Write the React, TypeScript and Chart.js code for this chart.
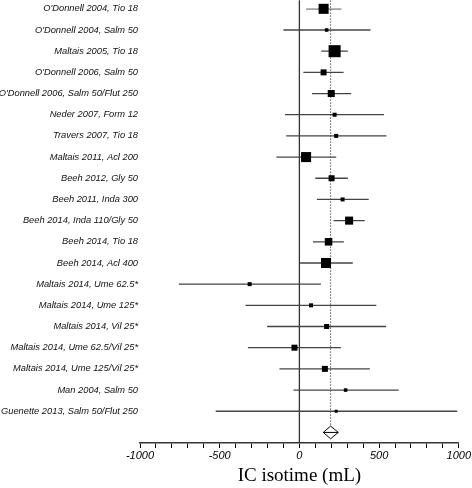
import React, { useEffect, useRef } from 'react';
import { Chart, registerables } from 'chart.js';

Chart.register(...registerables);

const studies = [
  "O'Donnell 2004, Tio 18",
  "O'Donnell 2004, Salm 50",
  'Maltais 2005, Tio 18',
  "O'Donnell 2006, Salm 50",
  "O'Donnell 2006, Salm 50/Flut 250",
  'Neder 2007, Form 12',
  'Travers 2007, Tio 18',
  'Maltais 2011, Acl 200',
  'Beeh 2012, Gly 50',
  'Beeh 2011, Inda 300',
  'Beeh 2014, Inda 110/Gly 50',
  'Beeh 2014, Tio 18',
  'Beeh 2014, Acl 400',
  'Maltais 2014, Ume 62.5*',
  'Maltais 2014, Ume 125*',
  'Maltais 2014, Vil 25*',
  'Maltais 2014, Ume 62.5/Vil 25*',
  'Maltais 2014, Ume 125/Vil 25*',
  'Man 2004, Salm 50',
  'Guenette 2013, Salm 50/Flut 250',
];
const estimates = [152, 171, 221, 152, 200, 221, 231, 42, 202, 271, 312, 183, 167, -312, 73, 171, -31, 160, 290, 231];
const ciLower = [42, -100, 137, 25, 79, -90, -83, -144, 100, 110, 215, 85, 0, -756, -338, -202, -323, -125, -37, -525];
const ciUpper = [264, 446, 304, 277, 325, 531, 546, 231, 304, 435, 410, 279, 335, 135, 483, 544, 260, 442, 623, 990];
// relative study weights (%)
const weights = [11.2, 1.4, 16.1, 4.0, 5.5, 1.8, 1.8, 11.2, 4.0, 1.8, 7.2, 6.3, 11.2, 1.8, 1.8, 2.8, 4.0, 4.0, 1.4, 1.0];
const pooledEstimate = 196;
const pooledLower = 150;
const pooledUpper = 244;
const xTickLabels = [-1000, -500, 0, 500, 1000];

export default function App() {
  const ref = useRef<HTMLCanvasElement | null>(null);

  useEffect(() => {
    if (!ref.current) return;
    const pooledRow = studies.length;
    const lineColor = '#444';

    const datasets: any[] = [];
    datasets.push({
      data: estimates.map((x, i) => ({ x, y: i })),
      showLine: false,
      pointStyle: 'rect',
      pointRadius: weights.map((w) => (3 * Math.sqrt(w)) / Math.SQRT2),
      pointBackgroundColor: '#000',
      pointBorderColor: '#000',
      pointBorderWidth: 0,
      clip: false,
    });
    studies.forEach((_, i) => {
      datasets.push({
        data: [
          { x: ciLower[i], y: i },
          { x: ciUpper[i], y: i },
        ],
        showLine: true,
        borderColor: lineColor,
        borderWidth: 1.3,
        pointRadius: 0,
      });
    });
    // pooled diamond
    datasets.push({
      data: [
        { x: pooledLower, y: pooledRow },
        { x: pooledEstimate, y: pooledRow - 0.3 },
        { x: pooledUpper, y: pooledRow },
        { x: pooledEstimate, y: pooledRow + 0.3 },
        { x: pooledLower, y: pooledRow },
      ],
      showLine: true,
      borderColor: '#000',
      borderWidth: 1,
      pointRadius: 0,
    });
    datasets.push({
      data: [
        { x: pooledLower, y: pooledRow },
        { x: pooledUpper, y: pooledRow },
      ],
      showLine: true,
      borderColor: '#000',
      borderWidth: 1,
      pointRadius: 0,
    });
    // dotted pooled line
    datasets.push({
      data: [
        { x: pooledEstimate, y: -0.4 },
        { x: pooledEstimate, y: pooledRow - 0.3 },
      ],
      showLine: true,
      borderColor: '#555',
      borderWidth: 1,
      borderDash: [1.5, 1.5],
      pointRadius: 0,
      clip: false,
    });
    // zero line
    datasets.push({
      data: [
        { x: 0, y: -0.4 },
        { x: 0, y: 20.5 },
      ],
      showLine: true,
      borderColor: '#333',
      borderWidth: 1.3,
      pointRadius: 0,
      clip: false,
    });

    const chart = new Chart(ref.current, {
      type: 'scatter',
      data: { datasets },
      options: {
        animation: false,
        responsive: false,
        layout: { padding: { left: 0, right: 12, top: 0, bottom: 0 } },
        plugins: { legend: { display: false }, tooltip: { enabled: false } },
        scales: {
          x: {
            type: 'linear',
            min: -1000,
            max: 1000,
            afterFit: (s: any) => {
              s.height = 45;
            },
            afterBuildTicks: (s: any) => {
              const t = [];
              for (let v = -1000; v <= 1000; v += 100) t.push({ value: v });
              s.ticks = t;
            },
            ticks: {
              autoSkip: false,
              maxRotation: 0,
              padding: 1,
              color: '#000',
              font: { family: 'Liberation Sans', style: 'italic', size: 11 },
              callback: (v: any) => (xTickLabels.includes(Number(v)) ? String(v) : ''),
            },
            grid: { drawOnChartArea: false, drawTicks: true, tickLength: 5, color: '#000', lineWidth: 1 },
            border: { color: '#333', width: 1.5 },
            title: {
              display: true,
              text: 'IC isotime (mL)',
              color: '#000',
              font: { family: 'Liberation Serif', size: 19 },
              padding: { top: 2, bottom: 1 },
            },
          },
          y: {
            type: 'linear',
            reverse: true,
            min: -0.015,
            max: 20.5,
            afterFit: (s: any) => {
              s.width = 140;
            },
            afterBuildTicks: (s: any) => {
              s.ticks = studies.map((_, i) => ({ value: i }));
            },
            ticks: {
              autoSkip: false,
              padding: 2,
              color: '#111',
              font: { family: 'Liberation Sans', style: 'italic', size: 9.3 },
              callback: (v: any) => studies[Number(v)] ?? '',
            },
            grid: { display: false, drawTicks: false },
            border: { display: false },
          },
        },
      },
    });
    return () => chart.destroy();
  }, []);

  return (
    <div style={{ position: 'absolute', left: 0, top: 0, width: 472, height: 488, background: '#fff' }}>
      <canvas ref={ref} width={472} height={488} style={{ display: 'block' }} />
    </div>
  );
}
